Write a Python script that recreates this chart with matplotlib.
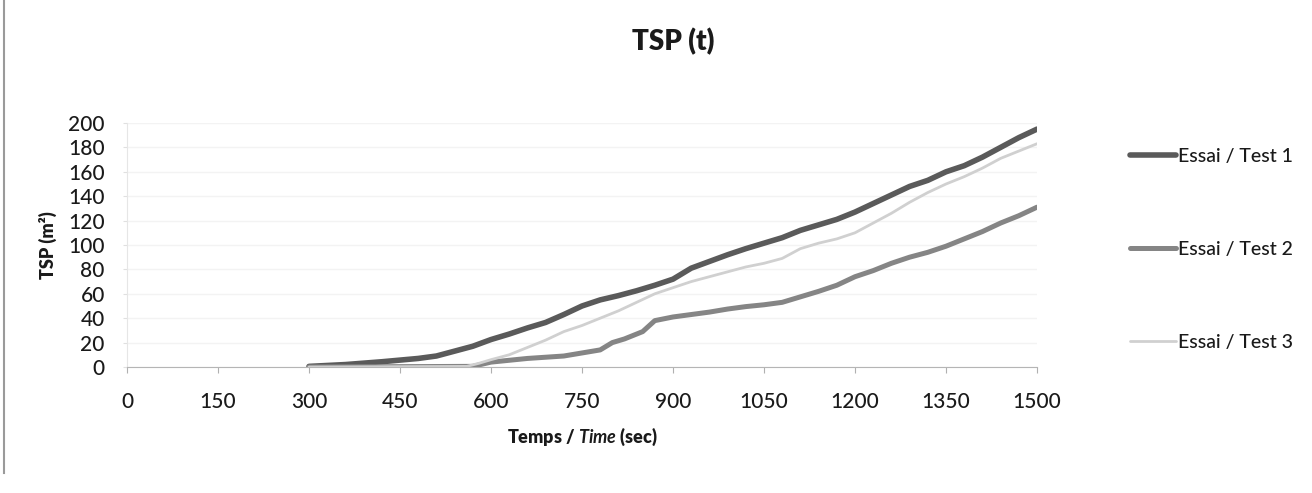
import matplotlib
matplotlib.use("Agg")
import matplotlib.pyplot as plt
from matplotlib.lines import Line2D

# ---- data ----
t1 = [300, 360, 420, 480, 510, 540, 570, 600, 630, 660, 690, 720, 750, 780, 810, 840, 870, 900,
      930, 960, 990, 1020, 1050, 1080, 1110, 1140, 1170, 1200, 1230, 1260, 1290, 1320, 1350,
      1380, 1410, 1440, 1470, 1500]
v1 = [0.5, 2, 4.3, 7, 9, 13, 17, 22.5, 27, 32, 36.5, 43, 50, 55, 58.5, 62.5, 67, 72,
      81, 86.5, 92, 97, 101.5, 106, 112, 116.5, 121, 127, 134, 141, 148, 153, 160,
      165, 172, 180, 188, 195]

t2 = [300, 570, 600, 630, 660, 690, 720, 750, 780, 800, 820, 840, 850, 870, 900, 930, 960, 990,
      1020, 1050, 1080, 1110, 1140, 1170, 1200, 1230, 1260, 1290, 1320, 1350, 1380, 1410,
      1440, 1470, 1500]
v2 = [0, 0.5, 4, 5.5, 7, 8, 9, 11.5, 14, 20, 23, 27, 29, 38, 41, 43, 45, 47.5,
      49.5, 51, 53, 57.5, 62, 67, 74, 79, 85, 90, 94, 99, 105, 111,
      118, 124, 131]

t3 = [300, 560, 580, 600, 630, 660, 690, 720, 750, 780, 810, 840, 870, 900, 930, 960, 990,
      1020, 1050, 1080, 1110, 1140, 1170, 1200, 1230, 1260, 1290, 1320, 1350, 1380, 1410,
      1440, 1470, 1500]
v3 = [0, 0.5, 3, 6, 10, 16, 22, 29, 34, 40, 46, 53, 60, 65, 70, 74, 78,
      82, 85, 89, 97, 101.5, 105, 110, 118, 126, 135, 143, 150, 156, 163,
      171, 177, 183]

series_labels = ["Essai / Test 1", "Essai / Test 2", "Essai / Test 3"]
x_ticks = [0, 150, 300, 450, 600, 750, 900, 1050, 1200, 1350, 1500]
y_ticks = [0, 20, 40, 60, 80, 100, 120, 140, 160, 180, 200]

plt.rcParams['font.family'] = ['Lato', 'DejaVu Sans']
plt.rcParams['mathtext.fontset'] = 'custom'
plt.rcParams['mathtext.rm'] = 'Lato'
plt.rcParams['mathtext.it'] = 'Lato:italic'
plt.rcParams['mathtext.bf'] = 'Lato:bold'
plt.rcParams['mathtext.bfit'] = 'Lato:italic:bold'

fig = plt.figure(figsize=(13.12, 4.93), dpi=100)
ax = fig.add_axes([0.0968, 0.2556, 0.6936, 0.4949])

ax.plot(t1, v1, color='#5a5a5a', lw=4, label=series_labels[0], solid_capstyle='round')
ax.plot(t2, v2, color='#858585', lw=3.6, label=series_labels[1], solid_capstyle='round')
ax.plot(t3, v3, color='#d0d0d0', lw=2.0, label=series_labels[2], solid_capstyle='round')

ax.set_xlim(0, 1500)
ax.set_ylim(0, 200)
ax.set_xticks(x_ticks)
ax.set_yticks(y_ticks)
ax.tick_params(axis='x', labelsize=15, colors='#b0b0b0', labelcolor='#1a1a1a', length=4, pad=14)
ax.tick_params(axis='y', labelsize=15, colors='#e0e0e0', labelcolor='#1a1a1a', length=3, pad=13)
for lbl in ax.get_xticklabels() + ax.get_yticklabels():
    lbl.set_fontweight('medium')
ax.grid(axis='y', color='#f3f3f3', lw=1)
ax.set_axisbelow(True)
for s in ['top', 'right']:
    ax.spines[s].set_visible(False)
ax.spines['left'].set_color('#e6e6e6')
ax.spines['bottom'].set_color('#b5b5b5')

ax.set_xlabel("Temps / $\\mathbfit{Time}$ (sec)", fontsize=13, fontweight='heavy', color='#1a1a1a', labelpad=10)
ax.set_ylabel("TSP (m²)", fontsize=13, fontweight='heavy', color='#1a1a1a', labelpad=8)

fig.text(0.513, 0.915, "TSP (t)", fontsize=20, fontweight='heavy', color='#1a1a1a', ha='center', va='center')

leg = ax.legend(loc='upper left', bbox_to_anchor=(0.855, 0.715), bbox_transform=fig.transFigure,
                frameon=False, fontsize=14, handlelength=2.4, handletextpad=0.1, labelspacing=3.9,
                borderaxespad=0)
for txt in leg.get_texts():
    txt.set_color('#1a1a1a')
    txt.set_fontweight('medium')

# left page border
fig.add_artist(Line2D([0.003, 0.003], [0.04, 1.0], transform=fig.transFigure, color='#9a9a9a', lw=1.5))

fig.savefig("out.png", dpi=100)
